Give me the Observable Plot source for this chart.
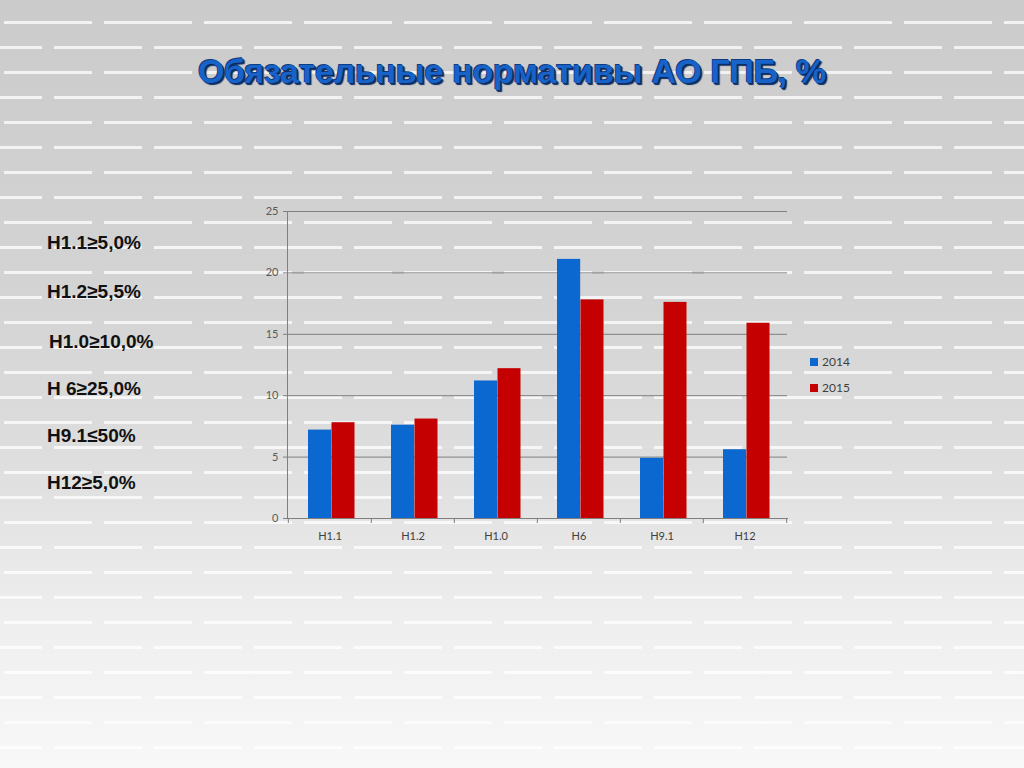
<!DOCTYPE html>
<html>
<head>
<meta charset="utf-8">
<script src="https://cdn.jsdelivr.net/npm/d3@7"></script>
<script src="https://cdn.jsdelivr.net/npm/@observablehq/plot@0.6"></script>
<style>
  html, body { margin: 0; padding: 0; }
  body {
    width: 1024px; height: 768px; position: relative; overflow: hidden;
    background-color: #dcdcdc;
    background-image:
      url("data:image/svg+xml;utf8,<svg xmlns='http://www.w3.org/2000/svg' width='200' height='50'><rect x='4' y='21' width='88' height='3' fill='white' fill-opacity='0.75'/><rect x='104' y='21' width='88' height='3' fill='white' fill-opacity='0.75'/><rect x='54' y='46' width='88' height='3' fill='white' fill-opacity='0.75'/><rect x='154' y='46' width='46' height='3' fill='white' fill-opacity='0.75'/><rect x='0' y='46' width='42' height='3' fill='white' fill-opacity='0.75'/></svg>"),
      linear-gradient(to bottom, #cbcbcb 0%, #d4d4d4 40%, #dedede 60%, #eeeeee 80%, #f8f8f8 100%);
    font-family: "Liberation Sans", Arial, sans-serif;
  }
  #title {
    position: absolute; left: 0; width: 1024px; top: 52px; text-align: center;
    font-family: "Liberation Sans", Arial, sans-serif; font-weight: bold; font-size: 34px;
    letter-spacing: -0.3px;
    color: #1863c9; text-shadow: 1px 1px 0 #0b2d63, 2px 2px 1px #0b2d63, -1px -1px 0 #0e3d80;
  }
  .norm {
    position: absolute; font-family: "Liberation Sans", Arial, sans-serif; font-weight: bold;
    font-size: 19px; line-height: 22px; color: #111;
  }
  #chart { position: absolute; left: 230px; top: 195px; }
  #legend { position: absolute; left: 810px; top: 354px; font-family: Lato, "Open Sans", sans-serif; font-size: 12px; color: #404040; }
  #legend div { height: 26px; display: flex; align-items: flex-start; }
  #legend span.sw { display: inline-block; width: 8px; height: 8px; margin-right: 4px; margin-top: 4px; }
</style>
</head>
<body>
<div id="title">Обязательные нормативы АО ГПБ, %</div>
<div id="norms"></div>
<div id="chart"></div>
<div id="legend"></div>
<script>
const categories = ["Н1.1", "Н1.2", "Н1.0", "Н6", "Н9.1", "Н12"];
const values2014 = [7.2, 7.6, 11.2, 21.1, 4.9, 5.6];
const values2015 = [7.8, 8.1, 12.2, 17.8, 17.6, 15.9];
const years = ["2014", "2015"];
const yearColors = ["#0a68d0", "#c40000"];
const yTicks = [0, 5, 10, 15, 20, 25];
const norms = ["Н1.1≥5,0%", "Н1.2≥5,5%", "Н1.0≥10,0%", "Н 6≥25,0%", "Н9.1≤50%", "Н12≥5,0%"];

// left-side normative labels
const normPos = [[47, 232], [47, 281], [49, 331], [47, 378], [47, 425], [47, 472]];
const normsDiv = document.getElementById("norms");
norms.forEach((t, i) => {
  const d = document.createElement("div");
  d.className = "norm";
  d.style.left = normPos[i][0] + "px";
  d.style.top = normPos[i][1] + "px";
  d.textContent = t;
  normsDiv.appendChild(d);
});

const rows = categories.map((c, i) => ({cat: c, v2014: values2014[i], v2015: values2015[i]}));
const step = 500 / categories.length;

const chart = Plot.plot({
  width: 620,
  height: 375,
  marginLeft: 57,
  marginRight: 63,
  marginTop: 16,
  marginBottom: 52,
  style: {background: "transparent", fontFamily: "Lato, 'Open Sans', sans-serif", fontSize: "11px", color: "#555"},
  x: {domain: categories, paddingInner: 0, paddingOuter: 0, label: null},
  y: {domain: [0, 25], label: null},
  marks: [
    Plot.gridY(yTicks, {stroke: "#7f7f7f", strokeOpacity: 1, strokeWidth: 1}),
    Plot.axisY({ticks: yTicks, tickSize: 4, tickPadding: 5, stroke: "#7f7f7f", fill: "#595959", fontSize: 11}),
    Plot.barY(rows, {x: "cat", y: "v2014", fill: yearColors[0], insetLeft: 20, insetRight: step - 43.5}),
    Plot.barY(rows, {x: "cat", y: "v2015", fill: yearColors[1], insetLeft: 43.5, insetRight: 16.5}),
    Plot.frame({anchor: "left", stroke: "#7f7f7f"}),
    Plot.frame({anchor: "bottom", stroke: "#7f7f7f"}),
    Plot.axisX({tickSize: 0, tickPadding: 14, fill: "#404040", fontSize: 11}),
    Plot.axisX({ticks: categories, tickSize: 5, text: null, stroke: "#7f7f7f", dx: -step / 2}),
    Plot.axisX({ticks: [categories[categories.length - 1]], tickSize: 5, text: null, stroke: "#7f7f7f", dx: step / 2})
  ]
});
document.getElementById("chart").appendChild(chart);

const legend = document.getElementById("legend");
years.forEach((y, i) => {
  const d = document.createElement("div");
  const s = document.createElement("span");
  s.className = "sw";
  s.style.background = yearColors[i];
  d.appendChild(s);
  d.appendChild(document.createTextNode(y));
  legend.appendChild(d);
});
</script>
</body>
</html>
